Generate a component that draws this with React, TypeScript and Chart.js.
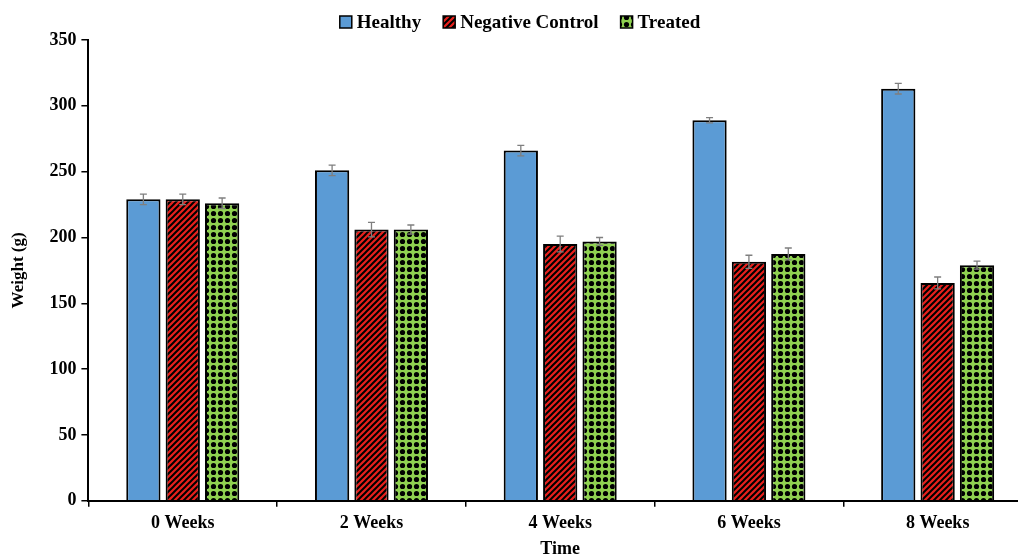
import React, { useEffect, useRef } from "react";
import { Chart, registerables } from "chart.js";

Chart.register(...registerables);

const categories = ["0 Weeks", "2 Weeks", "4 Weeks", "6 Weeks", "8 Weeks"];
const healthy = [229, 251, 266, 289, 313];
const healthyErr = [4, 4, 4, 2, 4];
const negative = [229, 206, 195, 181.5, 165.5];
const negativeErr = [4, 5.5, 6, 5, 4.5];
const treated = [226, 206, 197, 187.5, 179];
const treatedErr = [4, 3.5, 3, 4.5, 3];
const yTicks = [0, 50, 100, 150, 200, 250, 300, 350];

const FONT = "'Liberation Serif', 'Times New Roman', serif";

function stripePattern(): CanvasPattern | string {
  const c = document.createElement("canvas");
  const s = 6;
  c.width = s;
  c.height = s;
  const ctx = c.getContext("2d");
  if (!ctx) return "#e02020";
  ctx.fillStyle = "#e8201c";
  ctx.fillRect(0, 0, s, s);
  ctx.strokeStyle = "#000";
  ctx.lineWidth = 2;
  ctx.beginPath();
  ctx.moveTo(-1, s + 1);
  ctx.lineTo(s + 1, -1);
  ctx.moveTo(-1, 1);
  ctx.lineTo(1, -1);
  ctx.moveTo(s - 1, s + 1);
  ctx.lineTo(s + 1, s - 1);
  ctx.stroke();
  return ctx.createPattern(c, "repeat") || "#e02020";
}

function dotPattern(): CanvasPattern | string {
  const c = document.createElement("canvas");
  const s = 7;
  c.width = s;
  c.height = s;
  const ctx = c.getContext("2d");
  if (!ctx) return "#92d050";
  ctx.fillStyle = "#8fd150";
  ctx.fillRect(0, 0, s, s);
  ctx.fillStyle = "#000";
  ctx.beginPath();
  ctx.arc(s / 2, s / 2, 2.6, 0, Math.PI * 2);
  ctx.fill();
  return ctx.createPattern(c, "repeat") || "#92d050";
}

const errorBars = {
  id: "errorBars",
  afterDatasetsDraw(chart: any) {
    const ctx = chart.ctx;
    const yScale = chart.scales.y;
    chart.data.datasets.forEach((ds: any, i: number) => {
      const meta = chart.getDatasetMeta(i);
      const errs: number[] = ds.errors || [];
      meta.data.forEach((el: any, j: number) => {
        const v = ds.data[j];
        const e = errs[j] || 0;
        const top = yScale.getPixelForValue(v + e);
        const bot = yScale.getPixelForValue(v - e);
        ctx.save();
        ctx.strokeStyle = "#7f7f7f";
        ctx.lineWidth = 1.3;
        ctx.beginPath();
        ctx.moveTo(el.x, top);
        ctx.lineTo(el.x, bot);
        ctx.moveTo(el.x - 3.5, top);
        ctx.lineTo(el.x + 3.5, top);
        ctx.moveTo(el.x - 3.5, bot);
        ctx.lineTo(el.x + 3.5, bot);
        ctx.stroke();
        ctx.restore();
      });
    });
  },
};

// Compact legend: small box, tight gap to text, centred at the top.
const compactLegend = {
  id: "compactLegend",
  afterDraw(chart: any) {
    const ctx = chart.ctx;
    const font = `bold 19px ${FONT}`;
    ctx.save();
    ctx.font = font;
    const box = 12;
    const gapBoxText = 5;
    const gapItems = 22;
    const items = chart.data.datasets.map((ds: any) => ({
      label: ds.label,
      fill: ds.backgroundColor,
      w: box + gapBoxText + ctx.measureText(ds.label).width,
    }));
    const total = items.reduce((a: number, it: any) => a + it.w, 0) + gapItems * (items.length - 1);
    const cy = 22;
    let x = 520 - total / 2;
    items.forEach((it: any) => {
      ctx.fillStyle = it.fill;
      ctx.fillRect(x, cy - box / 2, box, box);
      ctx.strokeStyle = "#000";
      ctx.lineWidth = 1.5;
      ctx.strokeRect(x, cy - box / 2, box, box);
      ctx.fillStyle = "#000";
      ctx.textAlign = "left";
      ctx.textBaseline = "middle";
      ctx.fillText(it.label, x + box + gapBoxText, cy + 1);
      x += it.w + gapItems;
    });
    ctx.restore();
  },
};

export default function App() {
  const ref = useRef<HTMLCanvasElement | null>(null);
  useEffect(() => {
    document.body.style.margin = "0";
    document.body.style.overflow = "hidden";
    if (!ref.current) return;
    const chart = new Chart(ref.current, {
      type: "bar",
      data: {
        labels: categories,
        datasets: [
          {
            label: "Healthy",
            data: healthy,
            errors: healthyErr,
            backgroundColor: "#5b9bd5",
            borderColor: "#000",
            borderWidth: 2,
          } as any,
          {
            label: "Negative Control",
            data: negative,
            errors: negativeErr,
            backgroundColor: stripePattern(),
            borderColor: "#000",
            borderWidth: 2,
          } as any,
          {
            label: "Treated",
            data: treated,
            errors: treatedErr,
            backgroundColor: dotPattern(),
            borderColor: "#000",
            borderWidth: 2,
          } as any,
        ],
      },
      options: {
        animation: false,
        responsive: false,
        maintainAspectRatio: false,
        categoryPercentage: 0.626,
        barPercentage: 0.87,
        layout: { padding: { left: 8, right: 2, top: 40, bottom: 0 } },
        plugins: {
          tooltip: { enabled: false },
          legend: { display: false },
        },
        scales: {
          x: {
            grid: {
              display: true,
              drawOnChartArea: false,
              offset: true,
              color: "#000",
              tickLength: 6,
              lineWidth: 1.5,
            },
            border: { color: "#000", width: 2 },
            ticks: {
              color: "#000",
              padding: 8,
              font: { family: FONT, size: 18, weight: "bold", lineHeight: 1 },
            },
            title: {
              display: true,
              text: "Time",
              color: "#000",
              padding: { top: 0, bottom: 0 },
              font: { family: FONT, size: 18, weight: "bold", lineHeight: 0.9 },
            },
          },
          y: {
            min: 0,
            max: 350,
            afterBuildTicks: (scale: any) => {
              scale.ticks = yTicks.map((v) => ({ value: v }));
            },
            grid: {
              display: true,
              drawOnChartArea: false,
              color: "#000",
              tickLength: 7,
              lineWidth: 1.5,
            },
            border: { color: "#000", width: 2 },
            ticks: {
              color: "#000",
              padding: 5,
              font: { family: FONT, size: 18, weight: "bold" },
            },
            title: {
              display: true,
              text: "Weight (g)",
              color: "#000",
              padding: { top: 0, bottom: 16 },
              font: { family: FONT, size: 17, weight: "bold" },
            },
          },
        },
      },
      plugins: [errorBars, compactLegend],
    });
    return () => chart.destroy();
  }, []);
  return (
    <div style={{ position: "absolute", left: 0, top: 0, width: 1034, height: 557, overflow: "hidden" }}>
      <canvas ref={ref} width={1034} height={557} style={{ display: "block" }} />
    </div>
  );
}
